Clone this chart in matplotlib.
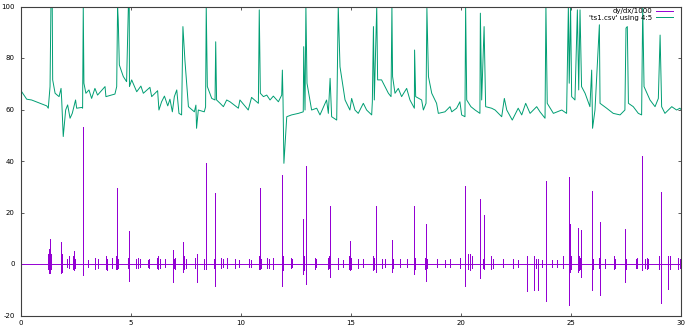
import matplotlib.pyplot as plt
import numpy as np

plt.rcParams["axes.unicode_minus"] = False

# green series: 'ts1.csv' using 4:5 (breakpoints)
ts_x = [0.0, 0.26, 0.48, 1.17, 1.24, 1.32, 1.36, 1.42, 1.44, 1.55, 1.73, 1.82, 1.85, 1.92,
        2.03, 2.12, 2.23, 2.33, 2.48, 2.53, 2.76, 2.80, 2.83, 2.86, 2.95, 3.09, 3.21, 3.36,
        3.48, 3.82, 3.86, 4.27, 4.35, 4.39, 4.42, 4.47, 4.65, 4.80, 4.88, 4.92, 4.93, 5.03,
        5.26, 5.45, 5.56, 5.86, 5.94, 6.21, 6.27, 6.39, 6.52, 6.67, 6.77, 6.88, 6.97, 7.08,
        7.18, 7.30, 7.36, 7.45, 7.61, 7.88, 7.95, 7.98, 8.06, 8.33, 8.39, 8.42, 8.47, 8.67,
        8.82, 8.85, 8.89, 9.05, 9.20, 9.35, 9.50, 9.88, 9.95, 10.33, 10.48, 10.79, 10.83,
        10.88, 11.02, 11.17, 11.32, 11.47, 11.70, 11.85, 11.88, 11.91, 11.95, 12.08, 12.30,
        12.61, 12.83, 12.85, 12.91, 12.95, 13.00, 13.21, 13.44, 13.59, 13.89, 13.97, 14.05,
        14.12, 14.35, 14.42, 14.50, 14.73, 14.95, 15.03, 15.18, 15.33, 15.56, 15.71, 15.94,
        15.97, 16.02, 16.06, 16.17, 16.21, 16.39, 16.70, 16.82, 16.86, 16.89, 17.00, 17.15,
        17.30, 17.53, 17.68, 17.88, 17.89, 17.94, 18.21, 18.29, 18.41, 18.45, 18.52, 18.67,
        18.89, 18.97, 19.27, 19.50, 19.58, 19.80, 19.95, 20.03, 20.18, 20.21, 20.26, 20.45,
        20.64, 20.86, 20.88, 20.94, 21.05, 21.12, 21.39, 21.55, 21.85, 21.97, 22.08, 22.33,
        22.60, 22.76, 22.94, 23.14, 23.44, 23.59, 23.82, 23.86, 23.92, 24.20, 24.58, 24.80,
        24.88, 24.92, 24.98, 25.03, 25.18, 25.29, 25.35, 25.41, 25.48, 25.64, 25.86, 25.94,
        25.98, 26.09, 26.29, 26.32, 26.62, 26.92, 27.23, 27.45, 27.50, 27.56, 27.61, 27.83,
        28.06, 28.21, 28.26, 28.32, 28.59, 28.82, 28.97, 29.05, 29.12, 29.27, 29.58, 29.80,
        29.95, 30.0]
ts_y = [67.3, 64.0, 63.7, 61.4, 60.5, 68.9, 100, 100, 71.5, 66.3, 65.0, 68.2, 63.7, 49.5,
        59.8, 61.8, 56.6, 58.5, 63.7, 60.5, 60.8, 60.5, 100, 70.2, 66.3, 67.6, 64.3, 68.2,
        65.6, 68.9, 65.0, 66.0, 68.9, 100, 94.8, 77.3, 72.8, 70.8, 100, 100, 68.9, 71.5,
        66.9, 69.1, 66.3, 68.6, 65.0, 67.3, 59.8, 63.0, 65.2, 61.4, 64.0, 59.1, 65.0, 67.6,
        58.5, 57.9, 92.2, 79.2, 61.1, 59.1, 61.7, 52.7, 59.8, 59.1, 61.0, 100, 68.9, 64.3,
        63.7, 86.3, 63.7, 62.4, 61.1, 63.7, 63.0, 60.5, 63.7, 59.8, 64.7, 62.4, 98.7,
        66.3, 65.0, 65.6, 63.7, 65.2, 63.0, 65.6, 75.3, 63.7, 39.1, 57.2, 57.9,
        58.5, 59.1, 84.4, 59.8, 100, 70.2, 59.8, 60.5, 57.9, 63.7, 58.5, 72.1,
        57.2, 55.9, 100, 76.6, 63.7, 59.8, 64.3, 59.8, 58.5, 62.4, 59.8, 57.9,
        63.0, 92.2, 63.7, 100, 71.5, 71.5, 66.3, 65.0, 100, 72.8, 66.3, 68.2,
        65.0, 68.2, 63.7, 60.5, 83.1, 65.0, 63.7, 59.8, 62.4, 99.3, 72.8, 66.3,
        62.4, 58.5, 59.1, 61.1, 59.1, 60.5, 63.0, 57.9, 57.2, 100, 63.7, 61.1,
        59.8, 58.5, 97.4, 63.7, 92.2, 61.1, 60.5, 59.8, 57.2, 64.3, 59.8, 55.9,
        60.5, 57.9, 62.4, 58.5, 61.1, 59.1, 56.6, 100, 62.4, 58.5, 59.8, 58.5,
        100, 70.2, 100, 65.0, 63.7, 98.7, 67.6, 98.7, 68.9, 66.3, 61.1, 75.3,
        52.7, 59.8, 92.9, 62.4, 60.5, 58.5, 57.9, 59.8, 91.6, 92.2, 62.4, 61.1,
        58.5, 57.9, 100, 68.9, 63.7, 61.1, 64.3, 88.9, 61.1, 58.5, 61.1, 59.8,
        60.5, 60.0]

# purple series: dy/dx/1000, spikes (position, top, bottom)
spike_x = [1.24, 1.28, 1.30, 1.33, 1.38, 1.82, 1.85, 1.88, 2.08, 2.18, 2.38, 2.42, 2.46,
           2.83, 3.06, 3.36, 3.48, 3.86, 3.92, 4.12, 4.32, 4.38, 4.42, 4.88, 4.91, 5.22,
           5.30, 5.41, 5.75, 5.82, 6.18, 6.24, 6.30, 6.55, 6.92, 6.95, 7.02, 7.38, 7.42,
           7.48, 7.91, 7.98, 8.33, 8.39, 8.40, 8.79, 8.83, 9.10, 9.16, 9.35, 9.73, 9.91,
           10.38, 10.44, 10.82, 10.85, 10.90, 11.20, 11.28, 11.47, 11.88, 11.92, 12.25,
           12.30, 12.83, 12.88, 12.95, 13.36, 13.42, 13.97, 14.02, 14.06, 14.39, 14.65,
           14.93, 14.97, 15.00, 15.34, 15.56, 15.98, 16.05, 16.15, 16.40, 16.55, 16.85,
           16.88, 16.93, 17.23, 17.53, 17.86, 17.91, 18.36, 18.39, 18.44, 18.90, 19.28,
           19.50, 19.96, 20.20, 20.33, 20.40, 20.50, 20.88, 20.99, 21.05, 21.38, 21.44,
           21.90, 22.38, 22.61, 22.99, 23.30, 23.34, 23.40, 23.50, 23.67, 23.86, 24.12,
           24.35, 24.65, 24.90, 24.95, 25.00, 25.30, 25.37, 25.42, 25.45, 25.94, 26.00,
           26.25, 26.30, 26.55, 26.95, 27.02, 27.45, 27.50, 27.95, 28.01, 28.24, 28.38,
           28.44, 28.50, 29.02, 29.09, 29.10, 29.42, 29.50, 29.88, 29.95]
spike_hi = [4, 6, 9.6, 3, 4, 8.5, 4, 2, 2, 3, 3, 5, 2,
            53.3, 1.5, 2.5, 2, 3, 2, 2.5, 3, 29.4, 2, 2.5, 12.8, 2,
            2.5, 2, 1.5, 2, 2.5, 3, 2, 2, 5.5, 2, 2.5, 8.5, 3,
            2, 2.5, 4, 2, 39.2, 2, 2, 27.6, 2.5, 2, 2.5, 2, 1.5,
            2, 1.5, 3, 29.6, 2, 2.5, 2, 2.5, 34.7, 3, 2.5,
            2, 17.5, 3, 38.1, 2.5, 2, 2.5, 3, 22.4, 2.5, 1.5,
            3, 8.8, 2.5, 2, 2, 3, 2.5, 22.5, 2, 2, 9.3,
            3, 2, 2, 2, 22.5, 2.5, 2.5, 15.5, 2, 2, 1.5,
            2, 2.5, 30.4, 4, 4, 3, 25.2, 2, 19, 3, 2,
            2, 2, 1.5, 3, 3, 2.5, 2, 2, 1.5, 32.1, 1.5,
            1.5, 3, 33.9, 15.5, 3, 14, 3, 2.5, 13.2, 28.4, 2,
            2.5, 16.4, 2, 3, 2, 13.5, 2, 2, 2.5, 41.8, 2,
            2.5, 2, 3, 27.9, 2.5, 3, 3, 2.5, 2]
spike_lo = [-2, -3.5, -3.4, -2, -2, -3.4, -3, -1.5, -1, -1.5, -2, -2.5, -1.5,
            -4.4, -1, -2, -1.5, -2, -2.5, -1.5, -2, -2, -1.5, -1.5, -6.5, -1.5,
            -1.5, -1, -1, -1.5, -1.5, -2, -1.5, -1, -6.9, -1.5, -2, -3, -2,
            -1.5, -1.5, -6.9, -2, -2, -1.5, -1.5, -8.5, -1.5, -1, -1.5, -1.5, -1,
            -1, -1, -2, -2, -1.5, -1.5, -1.5, -2, -8.5, -2.5, -1.5,
            -1, -4, -2.5, -7.8, -2, -1, -2, -1.5, -5, -2, -1,
            -2, -2.5, -2, -1.5, -1, -2.5, -2, -3, -1.5, -1, -3,
            -2, -1.5, -1, -1, -4, -2, -2, -6.5, -1.5, -1, -1,
            -1, -1.5, -8.5, -2, -2.5, -1.5, -5.5, -1.5, -2, -2, -1.5,
            -1, -1.5, -1, -10.4, -10.2, -2, -1.5, -10.2, -1, -14.4, -1,
            -1, -1.5, -15.9, -3, -2, -3, -2.5, -2, -5, -10.2, -2,
            -1.5, -11.9, -1.5, -2, -1.5, -6.9, -2, -1.5, -1.5, -2.5, -1.5,
            -2, -1.5, -2, -15.2, -2, -9.8, -2, -2, -1.5]

purple = "#9400D3"
green = "#009E73"

# build the derivative trace: baseline at 0 with each spike drawn up and down
dx = [0.0]
dy = [0.0]
for sx, hi, lo in zip(spike_x, spike_hi, spike_lo):
    dx += [sx, sx, sx, sx]
    dy += [0.0, hi, lo, 0.0]
dx.append(30.0)
dy.append(0.0)

fig = plt.figure(figsize=(6.9, 3.28), dpi=100)
ax = fig.add_axes([21/690, 12.5/328, 660/690, 309/328])

ax.plot(dx, dy, color=purple, lw=0.7, label="dy/dx/1000")
ax.plot(ts_x, ts_y, color=green, lw=0.7, label="'ts1.csv' using 4:5")

ax.set_xlim(0, 30)
ax.set_ylim(-20, 100)
ax.set_xticks([0, 5, 10, 15, 20, 25, 30])
ax.set_yticks([-20, 0, 20, 40, 60, 80, 100])
ax.tick_params(direction="in", length=2.2, width=0.6, labelsize=5,
               top=True, right=True, colors="#404040", labelcolor="black")
ax.tick_params(axis="y", pad=4.5)
ax.tick_params(axis="x", pad=3.5)
for s in ax.spines.values():
    s.set_color("#404040")
    s.set_linewidth(0.8)

ax.legend(loc="upper right", bbox_to_anchor=(0.988, 0.994), frameon=False,
          markerfirst=False, fontsize=5, handlelength=2.4, handletextpad=0.6,
          labelspacing=0.05, borderpad=0, borderaxespad=0)

fig.savefig("out.png", dpi=100)
